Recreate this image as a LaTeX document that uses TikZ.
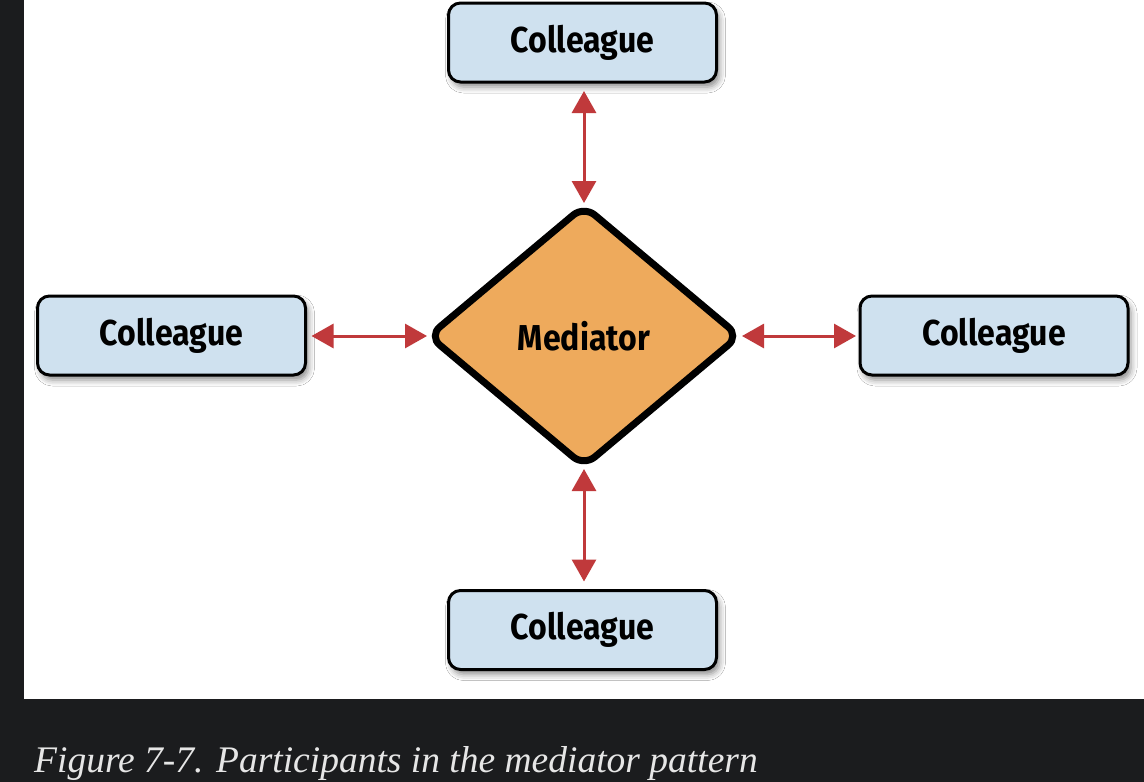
\documentclass[tikz,border=0pt]{standalone}
\usepackage{fontspec}
\setmainfont{Liberation Serif}
\newfontfamily\boxfont[FakeStretch=0.89]{Fira Sans}
\newfontfamily\capfont{Liberation Serif}
\usetikzlibrary{shapes.geometric,arrows.meta,shadows.blur}
\definecolor{pagebg}{HTML}{1B1C1E}
\definecolor{boxblue}{HTML}{CFE1EF}
\definecolor{medorange}{HTML}{EEAA5C}
\definecolor{arrred}{HTML}{C0393B}
\definecolor{captext}{HTML}{E6E6E6}
\tikzset{
  colbox/.style={draw=black, line width=3pt, fill=boxblue, rounded corners=12pt,
    minimum width=268pt, minimum height=79pt, inner sep=0pt, outer sep=0pt,
    font=\boxfont\bfseries\fontsize{36}{40}\selectfont,
    blur shadow={shadow xshift=3pt, shadow yshift=-5pt, shadow blur radius=6pt, shadow opacity=45}},
  medbox/.style={diamond, draw=black, line width=7pt, fill=medorange, rounded corners=14pt,
    minimum width=310pt, minimum height=260pt, inner sep=0pt, outer sep=0pt,
    font=\boxfont\bfseries\fontsize{36}{40}\selectfont},
  link/.style={draw=arrred, line width=3pt, {Triangle[width=24pt,length=22pt]}-{Triangle[width=24pt,length=22pt]}},
}
\begin{document}
\begin{tikzpicture}[x=1pt,y=-1pt]
\useasboundingbox (0,0) rectangle (1144,782);
\fill[pagebg] (0,0) rectangle (1144,782);
\fill[white] (24,0) rectangle (1144,699);
\node[medbox] (med) at (584,336) {Mediator};
\node[colbox] (top) at (582.5,42.5) {Colleague};
\node[colbox] (left) at (171.5,335.5) {Colleague};
\node[colbox] (right) at (994,335.5) {Colleague};
\node[colbox] (bot) at (582.5,630) {Colleague};
\draw[link, shorten <=9pt, shorten >=3pt] (top.south -| med.north) -- (med.north);
\draw[link, shorten <=3pt, shorten >=9pt] (med.south) -- (med.south |- bot.north);
\draw[link, shorten <=6pt, shorten >=2pt] (left.east |- med.west) -- (med.west);
\draw[link, shorten <=3pt, shorten >=4pt] (med.east) -- (med.east -| right.west);
\node[anchor=base west, inner sep=0pt, text=captext, font=\capfont\itshape\fontsize{37.5}{40}\selectfont] (cap) at (34,772) {Figure 7-7. Participants in the mediator pattern};
\end{tikzpicture}
\end{document}
